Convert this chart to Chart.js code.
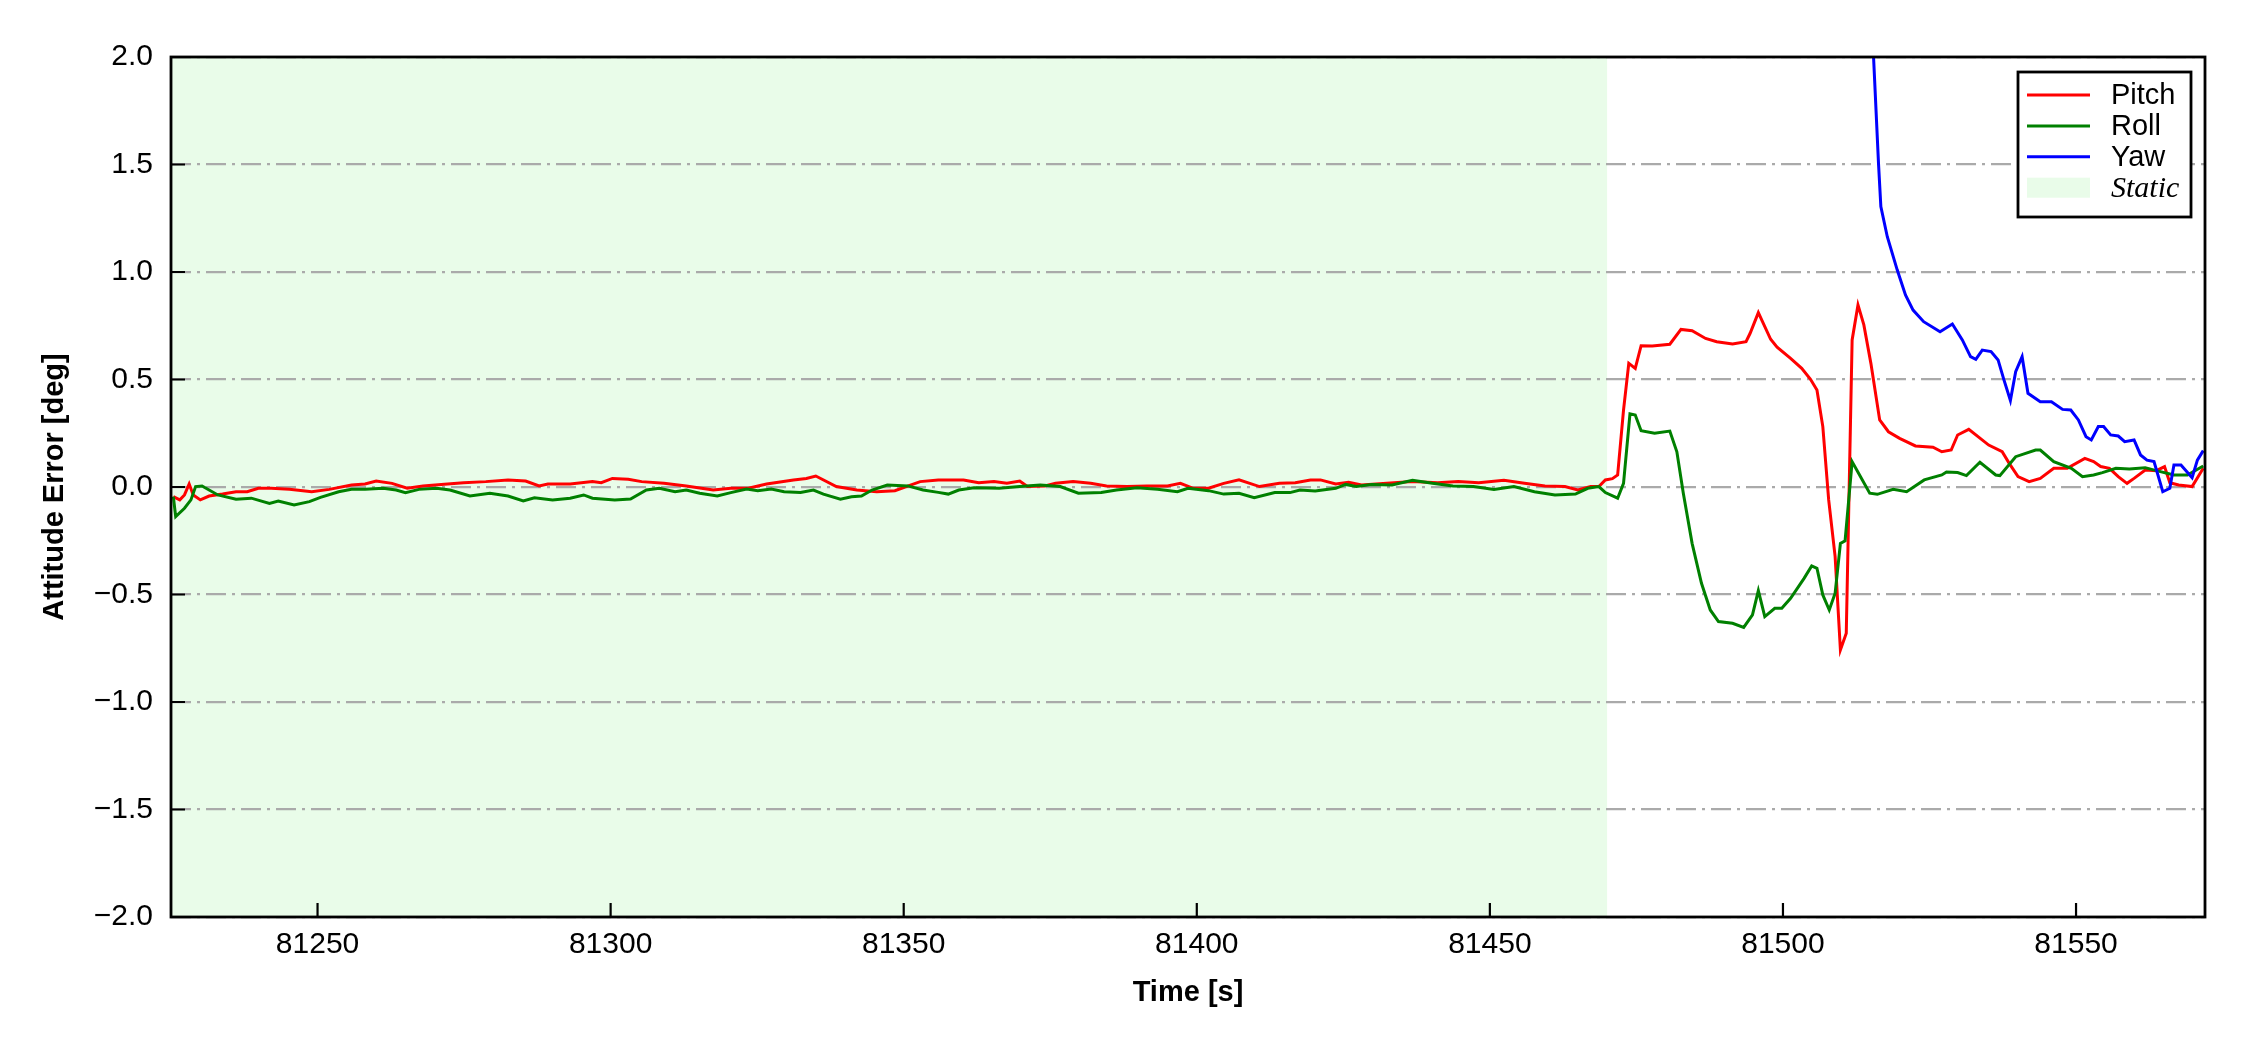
<!DOCTYPE html>
<html>
<head>
<meta charset="utf-8">
<script src="https://cdn.jsdelivr.net/npm/chart.js@4.4.0/dist/chart.umd.min.js"></script>
<style>
  html, body { margin: 0; padding: 0; background: #fff; }
  #wrap { width: 2250px; height: 1050px; }
</style>
</head>
<body>
<div id="wrap"><canvas id="attitudeChart" width="2250" height="1050"></canvas></div>
<script>
// ── data ──
const pitchTime = [
  81225.4, 81226.5, 81227.3, 81228.1, 81228.8, 81230.0, 81231.5, 81233.8, 81236.1, 81238.0,
  81239.9, 81242.1, 81245.2, 81249.0, 81252.0, 81255.8, 81258.1, 81260.0, 81262.7, 81265.3,
  81268.0, 81271.1, 81274.9, 81278.7, 81282.5, 81285.5, 81287.8, 81289.3, 81293.1, 81296.9,
  81298.4, 81300.3, 81303.0, 81305.3, 81309.1, 81312.9, 81317.5, 81320.5, 81323.5, 81326.6,
  81331.2, 81333.4, 81335.0, 81338.5, 81342.0, 81345.4, 81348.5, 81352.8, 81355.9, 81360.2,
  81362.8, 81365.4, 81367.6, 81369.8, 81371.1, 81374.1, 81375.9, 81378.9, 81381.9, 81384.6,
  81388.1, 81391.5, 81395.0, 81397.2, 81399.4, 81402.0, 81404.6, 81407.2, 81410.7, 81414.1,
  81416.8, 81419.4, 81421.1, 81423.7, 81425.9, 81428.1, 81432.4, 81436.8, 81441.1, 81444.6,
  81448.1, 81452.4, 81455.9, 81459.4, 81462.8, 81465.0, 81467.2, 81468.6, 81469.7, 81470.9,
  81471.8, 81472.8, 81473.7, 81474.8, 81475.8, 81477.7, 81480.7, 81482.6, 81484.5, 81486.8,
  81488.7, 81491.4, 81493.7, 81494.4, 81495.8, 81497.9, 81499.0, 81501.3, 81503.2, 81504.7,
  81505.8, 81506.8, 81507.8, 81508.9, 81509.8, 81510.8, 81511.8, 81512.8, 81513.8, 81515.0,
  81516.5, 81518.0, 81519.9, 81522.6, 81525.6, 81527.1, 81528.7, 81529.8, 81531.7, 81535.1,
  81537.4, 81538.6, 81540.1, 81542.0, 81543.9, 81546.2, 81548.5, 81551.5, 81553.0, 81554.2,
  81555.7, 81557.2, 81558.7, 81559.9, 81561.8, 81563.7, 81565.1, 81566.0, 81567.5, 81569.8,
  81571.7
];
const pitchErr = [
  -0.045, -0.060, -0.037, 0.014, -0.037, -0.060, -0.042, -0.033, -0.022, -0.022,
  -0.006, -0.006, -0.011, -0.022, -0.011, 0.009, 0.014, 0.028, 0.017, -0.006,
  0.005, 0.012, 0.020, 0.025, 0.033, 0.028, 0.005, 0.014, 0.014, 0.025,
  0.020, 0.040, 0.036, 0.025, 0.017, 0.005, -0.014, -0.006, -0.006, 0.014,
  0.033, 0.040, 0.051, 0.002, -0.014, -0.022, -0.017, 0.025, 0.033, 0.033,
  0.020, 0.025, 0.017, 0.028, 0.002, 0.005, 0.017, 0.025, 0.017, 0.005,
  0.002, 0.005, 0.005, 0.017, -0.006, -0.006, 0.017, 0.033, 0.002, 0.017,
  0.020, 0.033, 0.033, 0.014, 0.022, 0.009, 0.017, 0.025, 0.020, 0.025,
  0.020, 0.031, 0.017, 0.005, 0.002, -0.014, 0.002, 0.002, 0.033, 0.039,
  0.056, 0.358, 0.575, 0.552, 0.657, 0.656, 0.664, 0.733, 0.727, 0.691,
  0.676, 0.665, 0.676, 0.715, 0.811, 0.687, 0.650, 0.598, 0.552, 0.501,
  0.451, 0.281, -0.060, -0.324, -0.758, -0.680, 0.684, 0.847, 0.754, 0.575,
  0.312, 0.257, 0.226, 0.191, 0.185, 0.164, 0.172, 0.242, 0.268, 0.195,
  0.164, 0.110, 0.048, 0.025, 0.040, 0.087, 0.087, 0.133, 0.118, 0.095,
  0.087, 0.048, 0.017, 0.040, 0.079, 0.076, 0.095, 0.020, 0.009, 0.002,
  0.087
];

const rollTime = [
  81225.4, 81225.8, 81227.3, 81228.4, 81229.2, 81230.3, 81231.5, 81233.0, 81236.1, 81238.7,
  81241.8, 81243.3, 81246.0, 81248.6, 81250.5, 81253.6, 81255.8, 81258.1, 81261.2, 81263.4,
  81265.0, 81267.3, 81270.3, 81272.6, 81276.0, 81279.4, 81282.5, 81285.1, 81287.0, 81290.1,
  81293.1, 81295.4, 81296.9, 81300.7, 81303.4, 81306.1, 81308.3, 81311.0, 81312.9, 81315.2,
  81318.2, 81320.5, 81323.2, 81325.1, 81327.4, 81329.6, 81332.4, 81334.6, 81336.3, 81339.2,
  81341.1, 81342.8, 81344.6, 81347.2, 81350.7, 81353.3, 81355.9, 81357.6, 81359.4, 81362.0,
  81366.3, 81369.8, 81373.3, 81376.7, 81379.8, 81383.7, 81386.3, 81389.8, 81393.3, 81396.7,
  81398.5, 81402.0, 81404.6, 81407.2, 81409.8, 81413.3, 81415.9, 81417.6, 81420.2, 81423.7,
  81425.4, 81427.2, 81429.8, 81433.3, 81436.8, 81440.2, 81443.7, 81447.2, 81450.7, 81454.1,
  81457.6, 81461.1, 81464.6, 81466.7, 81468.6, 81469.7, 81471.8, 81472.8, 81473.9, 81474.8,
  81475.8, 81478.1, 81480.7, 81481.9, 81483.0, 81484.5, 81486.1, 81487.6, 81489.0, 81491.4,
  81493.3, 81494.8, 81495.8, 81496.9, 81498.6, 81499.8, 81501.3, 81503.6, 81504.9, 81505.8,
  81506.8, 81507.9, 81508.9, 81509.8, 81510.6, 81511.8, 81512.9, 81514.8, 81516.1, 81518.8,
  81521.1, 81524.1, 81527.1, 81527.9, 81529.8, 81531.3, 81533.6, 81536.3, 81537.0, 81539.7,
  81543.1, 81543.9, 81546.2, 81549.2, 81551.1, 81553.0, 81554.5, 81556.8, 81559.1, 81561.8,
  81563.7, 81566.7, 81569.0, 81571.7
];
const rollErr = [
  -0.045, -0.138, -0.099, -0.060, 0.002, 0.005, -0.014, -0.037, -0.057, -0.052,
  -0.076, -0.065, -0.084, -0.068, -0.048, -0.022, -0.011, -0.011, -0.006, -0.014,
  -0.026, -0.011, -0.006, -0.014, -0.042, -0.029, -0.042, -0.065, -0.050, -0.060,
  -0.052, -0.037, -0.052, -0.060, -0.056, -0.014, -0.006, -0.022, -0.014, -0.029,
  -0.042, -0.026, -0.009, -0.017, -0.009, -0.022, -0.026, -0.014, -0.033, -0.057,
  -0.045, -0.042, -0.014, 0.009, 0.005, -0.014, -0.025, -0.033, -0.014, -0.003,
  -0.006, 0.002, 0.009, 0.002, -0.029, -0.026, -0.014, -0.003, -0.011, -0.022,
  -0.006, -0.017, -0.033, -0.029, -0.050, -0.026, -0.026, -0.014, -0.019, -0.006,
  0.012, 0.002, 0.012, 0.009, 0.031, 0.017, 0.005, 0.002, -0.011, 0.002,
  -0.022, -0.037, -0.033, -0.006, 0.002, -0.026, -0.052, 0.017, 0.340, 0.335,
  0.262, 0.250, 0.260, 0.164, -0.029, -0.262, -0.448, -0.572, -0.626, -0.634,
  -0.653, -0.595, -0.482, -0.603, -0.564, -0.564, -0.518, -0.425, -0.367, -0.378,
  -0.502, -0.572, -0.494, -0.262, -0.250, 0.118, 0.064, -0.029, -0.034, -0.011,
  -0.022, 0.033, 0.056, 0.070, 0.067, 0.053, 0.115, 0.056, 0.053, 0.141,
  0.172, 0.172, 0.118, 0.087, 0.048, 0.056, 0.067, 0.087, 0.084, 0.090,
  0.076, 0.056, 0.056, 0.098
];

const yawTime = [
  81514.6, 81516.3, 81516.7, 81517.8, 81519.5, 81520.9, 81522.2, 81524.0, 81526.8, 81528.9,
  81530.6, 81532.0, 81532.9, 81534.0, 81535.5, 81536.7, 81537.7, 81538.8, 81539.7, 81540.8,
  81541.8, 81543.9, 81545.8, 81547.7, 81549.1, 81550.4, 81551.7, 81552.6, 81553.8, 81554.7,
  81555.9, 81557.2, 81558.3, 81559.9, 81561.0, 81562.1, 81563.3, 81564.8, 81566.0, 81566.7,
  81567.9, 81569.8, 81570.7, 81571.7
];
const yawErr = [
  2.500, 1.505, 1.304, 1.164, 1.009, 0.893, 0.823, 0.769, 0.722, 0.758,
  0.684, 0.606, 0.594, 0.637, 0.630, 0.591, 0.498, 0.402, 0.536, 0.606,
  0.436, 0.397, 0.397, 0.361, 0.358, 0.312, 0.234, 0.219, 0.281, 0.281,
  0.242, 0.237, 0.211, 0.219, 0.149, 0.125, 0.118, -0.022, -0.006, 0.102,
  0.102, 0.043, 0.125, 0.169
];

const seriesNames = ['Pitch', 'Roll', 'Yaw'];
const seriesColors = ['#ff0000', '#008000', '#0000ff'];
const staticSpan = [81225, 81470];
const staticLabel = 'Static';
const xRange = [81225, 81572];
const yRange = [-2.0, 2.0];
const xTicks = [81250, 81300, 81350, 81400, 81450, 81500, 81550];
const yTicks = [-2.0, -1.5, -1.0, -0.5, 0.0, 0.5, 1.0, 1.5, 2.0];

const STATIC_COLOR = '#e9fce9';
const SANS = "'Liberation Sans', Arial, Helvetica, sans-serif";
const SERIF = "'Liberation Serif', 'Times New Roman', serif";

const toPoints = (ts, vs) => ts.map((t, i) => ({ x: t, y: vs[i] }));

// ── plugins ──
const staticShade = {
    id: 'staticShade',
    beforeDraw(chart) {
        const { ctx, chartArea: a, scales: { x } } = chart;
        ctx.save();
        ctx.fillStyle = '#ffffff';
        ctx.fillRect(0, 0, chart.width, chart.height);
        const x0 = Math.max(a.left, x.getPixelForValue(staticSpan[0]));
        const x1 = Math.min(a.right, x.getPixelForValue(staticSpan[1]));
        ctx.fillStyle = STATIC_COLOR;
        ctx.fillRect(x0, a.top, x1 - x0, a.bottom - a.top);
        ctx.restore();
    }
};

// frame all round plus inward tick marks (matplotlib look)
const frameTicks = {
    id: 'frameTicks',
    afterDatasetsDraw(chart) {
        const { ctx, chartArea: a, scales: { x, y } } = chart;
        ctx.save();
        ctx.strokeStyle = '#000';
        ctx.lineWidth = 2.2;
        ctx.beginPath();
        x.ticks.forEach(t => {
            const px = x.getPixelForValue(t.value);
            ctx.moveTo(px, a.bottom);
            ctx.lineTo(px, a.bottom - 14);
        });
        y.ticks.forEach(t => {
            const py = y.getPixelForValue(t.value);
            ctx.moveTo(a.left, py);
            ctx.lineTo(a.left + 14, py);
        });
        ctx.stroke();
        ctx.lineWidth = 2.8;
        ctx.strokeRect(a.left, a.top, a.right - a.left, a.bottom - a.top);
        ctx.restore();
    }
};

const boxLegend = {
    id: 'boxLegend',
    afterDraw(chart) {
        const { ctx, chartArea: a } = chart;
        const w = 173, h = 145;
        const left = a.right - 14 - w, top = a.top + 15;
        ctx.save();
        ctx.fillStyle = '#fff';
        ctx.fillRect(left, top, w, h);
        ctx.lineWidth = 2.8;
        ctx.strokeStyle = '#000';
        ctx.strokeRect(left, top, w, h);

        const rows = chart.data.datasets.map(ds => ({ label: ds.label, color: ds.borderColor, patch: false }));
        rows.push({ label: staticLabel, color: STATIC_COLOR, patch: true });
        rows.forEach((r, i) => {
            const cy = top + 23 + i * 30.9;
            if (r.patch) {
                ctx.fillStyle = r.color;
                ctx.fillRect(left + 9, cy - 10, 63, 20);
            } else {
                ctx.strokeStyle = r.color;
                ctx.lineWidth = 3;
                ctx.beginPath();
                ctx.moveTo(left + 9, cy);
                ctx.lineTo(left + 72, cy);
                ctx.stroke();
            }
            ctx.fillStyle = '#000';
            ctx.font = r.patch ? `italic 30px ${SERIF}` : `29px ${SANS}`;
            ctx.textAlign = 'left';
            ctx.textBaseline = 'middle';
            ctx.fillText(r.label, left + 93, cy + 1);
        });
        ctx.restore();
    }
};

// ── chart ──
Chart.defaults.font.family = SANS;
Chart.defaults.color = '#000';

new Chart(document.getElementById('attitudeChart'), {
    type: 'line',
    data: {
        datasets: [
            { label: seriesNames[0], data: toPoints(pitchTime, pitchErr), borderColor: seriesColors[0], order: 3 },
            { label: seriesNames[1], data: toPoints(rollTime, rollErr), borderColor: seriesColors[1], order: 2 },
            { label: seriesNames[2], data: toPoints(yawTime, yawErr), borderColor: seriesColors[2], order: 1 }
        ]
    },
    options: {
        responsive: false,
        animation: false,
        layout: { padding: { left: 0, top: 57, right: 45, bottom: 0 } },
        elements: {
            line: { borderWidth: 3, tension: 0, fill: false },
            point: { radius: 0, hoverRadius: 0 }
        },
        plugins: {
            legend: { display: false },
            tooltip: { enabled: false }
        },
        scales: {
            x: {
                type: 'linear',
                min: xRange[0],
                max: xRange[1],
                afterBuildTicks: s => { s.ticks = xTicks.map(v => ({ value: v })); },
                afterFit: s => { s.height = 133; },
                grid: { display: false },
                border: { display: false },
                ticks: {
                    padding: 2,
                    font: { size: 30 },
                    color: '#000',
                    maxRotation: 0,
                    callback: v => String(v)
                },
                title: {
                    display: true,
                    text: 'Time [s]',
                    font: { size: 29, weight: 'bold' },
                    color: '#000',
                    padding: { top: 0, bottom: 40 }
                }
            },
            y: {
                min: yRange[0],
                max: yRange[1],
                afterBuildTicks: s => { s.ticks = yTicks.map(v => ({ value: v })); },
                afterFit: s => { s.width = 171; },
                grid: {
                    color: '#aaaaaa',
                    lineWidth: 2.2,
                    drawTicks: false
                },
                border: { display: false, dash: [20, 6, 3, 6] },
                ticks: {
                    padding: 18,
                    font: { size: 30 },
                    color: '#000',
                    callback: v => v.toFixed(1).replace('-', '\u2212')
                },
                title: {
                    display: true,
                    text: 'Attitude Error [deg]',
                    font: { size: 29, weight: 'bold' },
                    color: '#000',
                    padding: { top: 38, bottom: 0 }
                }
            }
        }
    },
    plugins: [staticShade, frameTicks, boxLegend]
});
</script>
</body>
</html>
